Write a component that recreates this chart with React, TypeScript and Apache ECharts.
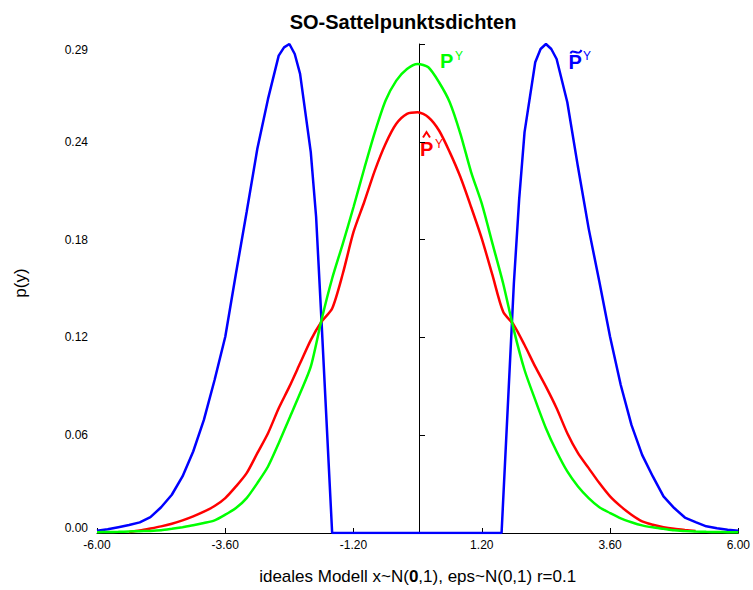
import React, { useEffect, useRef } from "react";
import * as echarts from "echarts";

const FONT = '"Liberation Sans", Arial, sans-serif';

const titleText = "SO-Sattelpunktsdichten";
const xName = "ideales Modell x~N({b|0},1), eps~N(0,1) r=0.1";
const yName = "p(y)";

const xs = [
  -6.0, -5.8, -5.6, -5.4, -5.2, -5.0, -4.8, -4.6, -4.4, -4.2, -4.0, -3.8, -3.6, -3.4, -3.2, -3.0,
  -2.8, -2.6, -2.4, -2.2, -2.0, -1.8, -1.6, -1.4, -1.2, -1.0, -0.8, -0.6, -0.4, -0.2, 0.0,
  0.2, 0.4, 0.6, 0.8, 1.0, 1.2, 1.4, 1.6, 1.8, 2.0, 2.2, 2.4, 2.6, 2.8, 3.0,
  3.2, 3.4, 3.6, 3.8, 4.0, 4.2, 4.4, 4.6, 4.8, 5.0, 5.2, 5.4, 5.6, 5.8, 6.0,
];

// P^Y (green)
const greenY = [
  0.0005, 0.0006, 0.0007, 0.0009, 0.0011, 0.0012, 0.0016, 0.0025, 0.0035, 0.0046, 0.006, 0.0076, 0.011, 0.015, 0.021, 0.03,
  0.04, 0.054, 0.069, 0.084, 0.1, 0.128, 0.153, 0.174, 0.196, 0.219, 0.241, 0.26, 0.272, 0.279, 0.282,
  0.28, 0.271, 0.259, 0.24, 0.217, 0.198, 0.174, 0.15, 0.122, 0.098, 0.08, 0.063, 0.049, 0.037, 0.028,
  0.021, 0.0155, 0.012, 0.0088, 0.0065, 0.0046, 0.0034, 0.0025, 0.0016, 0.0012, 0.0009, 0.0007, 0.0006, 0.0005, 0.0004,
];

// P-hat^Y (red)
const redY = [
  null, null, null, 0.0006, 0.0015, 0.0027, 0.004, 0.0056, 0.0076, 0.01, 0.0128, 0.0162, 0.021, 0.028, 0.036, 0.048,
  0.06, 0.075, 0.088, 0.102, 0.116, 0.127, 0.135, 0.156, 0.181, 0.199, 0.218, 0.234, 0.246, 0.252, 0.253,
  0.25, 0.242, 0.229, 0.214, 0.196, 0.177, 0.155, 0.133, 0.125, 0.113, 0.1, 0.088, 0.075, 0.06, 0.048,
  0.039, 0.03, 0.022, 0.016, 0.011, 0.007, 0.005, 0.0035, 0.0025, 0.0018, 0.0012, null, null, null, null,
];

// P-tilde^Y (blue)
const blueX = [
  -6.0, -5.8, -5.6, -5.4, -5.2, -5.0, -4.8, -4.6, -4.4, -4.2, -4.0, -3.8, -3.6, -3.4, -3.2, -3.0,
  -2.8, -2.6, -2.5, -2.4, -2.3, -2.2, -2.0, -1.9, -1.8, -1.6,
  1.57, 1.8, 1.9, 2.0, 2.2, 2.3, 2.4, 2.5, 2.6, 2.8, 3.0, 3.2, 3.4, 3.6, 3.8, 4.0, 4.2, 4.4, 4.6, 4.8, 5.0,
  5.2, 5.4, 5.6, 5.8, 6.0,
];
const blueY = [
  0.0013, 0.0022, 0.0035, 0.0048, 0.0064, 0.0095, 0.0155, 0.023, 0.034, 0.049, 0.068, 0.092, 0.118, 0.156, 0.193, 0.231,
  0.261, 0.287, 0.292, 0.294, 0.288, 0.276, 0.229, 0.19, 0.128, 0,
  0, 0.15, 0.201, 0.241, 0.283, 0.291, 0.294, 0.291, 0.285, 0.259, 0.22, 0.183, 0.151, 0.118, 0.089, 0.065, 0.047, 0.034, 0.022, 0.015, 0.0093,
  0.0065, 0.004, 0.0028, 0.0019, 0.0013,
];

const xMin = -6;
const xMax = 6;
const xStep = 2.4;
const yMin = 0;
const yMax = 0.294;
const yStep = 0.0588;

const GREEN = "#00ff00";
const RED = "#ff0000";
const BLUE = "#0000ff";

const GRID_LEFT = 97;
const GRID_RIGHT = 12;
const CHART_W = 753;

export default function App() {
  const ref = useRef<HTMLDivElement>(null);
  useEffect(() => {
    const chart = echarts.init(ref.current!, null, { renderer: "svg" });
    const pairs = (xv: number[], yv: (number | null)[]) =>
      xv.map((x, i) => [x, yv[i]]).filter((p) => p[1] !== null);
    const plotW = CHART_W - GRID_LEFT - GRID_RIGHT;
    const zeroOffset = -((0 - xMin) / (xMax - xMin)) * plotW;
    chart.setOption({
      animation: false,
      backgroundColor: "#ffffff",
      textStyle: { fontFamily: FONT },
      title: {
        text: titleText,
        left: 398,
        top: 7,
        textAlign: "center",
        textStyle: { fontFamily: FONT, fontSize: 20, fontWeight: "bold", color: "#000" },
      },
      grid: { left: GRID_LEFT, right: GRID_RIGHT, top: 44, bottom: 52, containLabel: false },
      xAxis: {
        type: "value",
        min: xMin,
        max: xMax,
        interval: xStep,
        name: xName,
        nameLocation: "middle",
        nameGap: 35,
        nameTextStyle: {
          fontFamily: FONT,
          fontSize: 17,
          color: "#000",
          rich: { b: { fontFamily: FONT, fontSize: 17, fontWeight: "bold", color: "#000" } },
        },
        axisLine: { show: true, lineStyle: { color: "#000", width: 1 } },
        axisTick: { show: true, inside: true, length: 5, lineStyle: { color: "#000" } },
        axisLabel: {
          fontFamily: FONT,
          fontSize: 12,
          color: "#000",
          margin: 6,
          formatter: (v: number) => v.toFixed(2),
        },
        splitLine: { show: false },
      },
      yAxis: [
        {
          type: "value",
          min: yMin,
          max: yMax,
          interval: yStep,
          axisLine: { show: false },
          axisTick: { show: false },
          axisLabel: {
            fontFamily: FONT,
            fontSize: 12,
            color: "#000",
            margin: 9,
            formatter: (v: number) => {
              const s = v.toFixed(2);
              if (v <= yMin + 1e-9) return "{bot|" + s + "}";
              if (v >= yMax - 1e-9) return "{top|" + s + "}";
              return s;
            },
            rich: {
              top: { fontFamily: FONT, fontSize: 12, color: "#000", padding: [12, 0, 0, 0] },
              bot: { fontFamily: FONT, fontSize: 12, color: "#000", padding: [0, 0, 10, 0] },
            },
          },
          splitLine: { show: false },
        },
        {
          type: "value",
          position: "left",
          offset: zeroOffset,
          min: yMin,
          max: yMax,
          interval: yStep,
          axisLine: { show: true, onZero: false, lineStyle: { color: "#000", width: 1 } },
          axisTick: { show: true, inside: true, length: 6, lineStyle: { color: "#000" } },
          axisLabel: { show: false },
          splitLine: { show: false },
        },
      ],
      series: [
        {
          type: "line",
          name: "blue",
          data: pairs(blueX, blueY),
          showSymbol: false,
          symbol: "none",
          lineStyle: { color: BLUE, width: 2.5 },
          itemStyle: { color: BLUE },
        },
        {
          type: "line",
          name: "red",
          data: pairs(xs, redY),
          showSymbol: false,
          symbol: "none",
          smooth: 0.25,
          lineStyle: { color: RED, width: 2.5 },
          itemStyle: { color: RED },
        },
        {
          type: "line",
          name: "green",
          data: pairs(xs, greenY),
          showSymbol: false,
          symbol: "none",
          smooth: 0.25,
          lineStyle: { color: GREEN, width: 2.5 },
          itemStyle: { color: GREEN },
        },
      ],
      graphic: [
        {
          type: "text",
          x: 20,
          y: 283,
          rotation: Math.PI / 2,
          style: { text: yName, fontFamily: FONT, fontSize: 17, fill: "#000", align: "center", verticalAlign: "middle" },
        },
        {
          type: "text",
          x: 440,
          y: 61,
          style: { text: "P", fontFamily: FONT, fontSize: 20, fontWeight: "bold", fill: GREEN, align: "left", verticalAlign: "middle" },
        },
        {
          type: "text",
          x: 455,
          y: 56,
          style: { text: "Y", fontFamily: FONT, fontSize: 12, fill: GREEN, align: "left", verticalAlign: "middle" },
        },
        {
          type: "text",
          x: 420,
          y: 149,
          style: { text: "P", fontFamily: FONT, fontSize: 20, fontWeight: "bold", fill: RED, align: "left", verticalAlign: "middle" },
        },
        {
          type: "text",
          x: 435,
          y: 144,
          style: { text: "Y", fontFamily: FONT, fontSize: 12, fill: RED, align: "left", verticalAlign: "middle" },
        },
        {
          type: "polyline",
          shape: { points: [[423, 137.5], [426.5, 132], [430, 137.5]] },
          style: { stroke: RED, lineWidth: 2, fill: null },
        },
        {
          type: "text",
          x: 568.5,
          y: 61.6,
          style: { text: "P", fontFamily: FONT, fontSize: 20, fontWeight: "bold", fill: BLUE, align: "left", verticalAlign: "middle" },
        },
        {
          type: "text",
          x: 583,
          y: 56.3,
          style: { text: "Y", fontFamily: FONT, fontSize: 12, fill: BLUE, align: "left", verticalAlign: "middle" },
        },
        {
          type: "bezierCurve",
          shape: { x1: 570.5, y1: 53.5, cpx1: 572.5, cpy1: 47.5, cpx2: 578.5, cpy2: 57, x2: 581.5, y2: 50 },
          style: { stroke: BLUE, lineWidth: 2, fill: null },
        },
      ],
    });
    return () => chart.dispose();
  }, []);
  return <div ref={ref} style={{ position: "fixed", left: 0, top: 0, width: 753, height: 590 }} />;
}
